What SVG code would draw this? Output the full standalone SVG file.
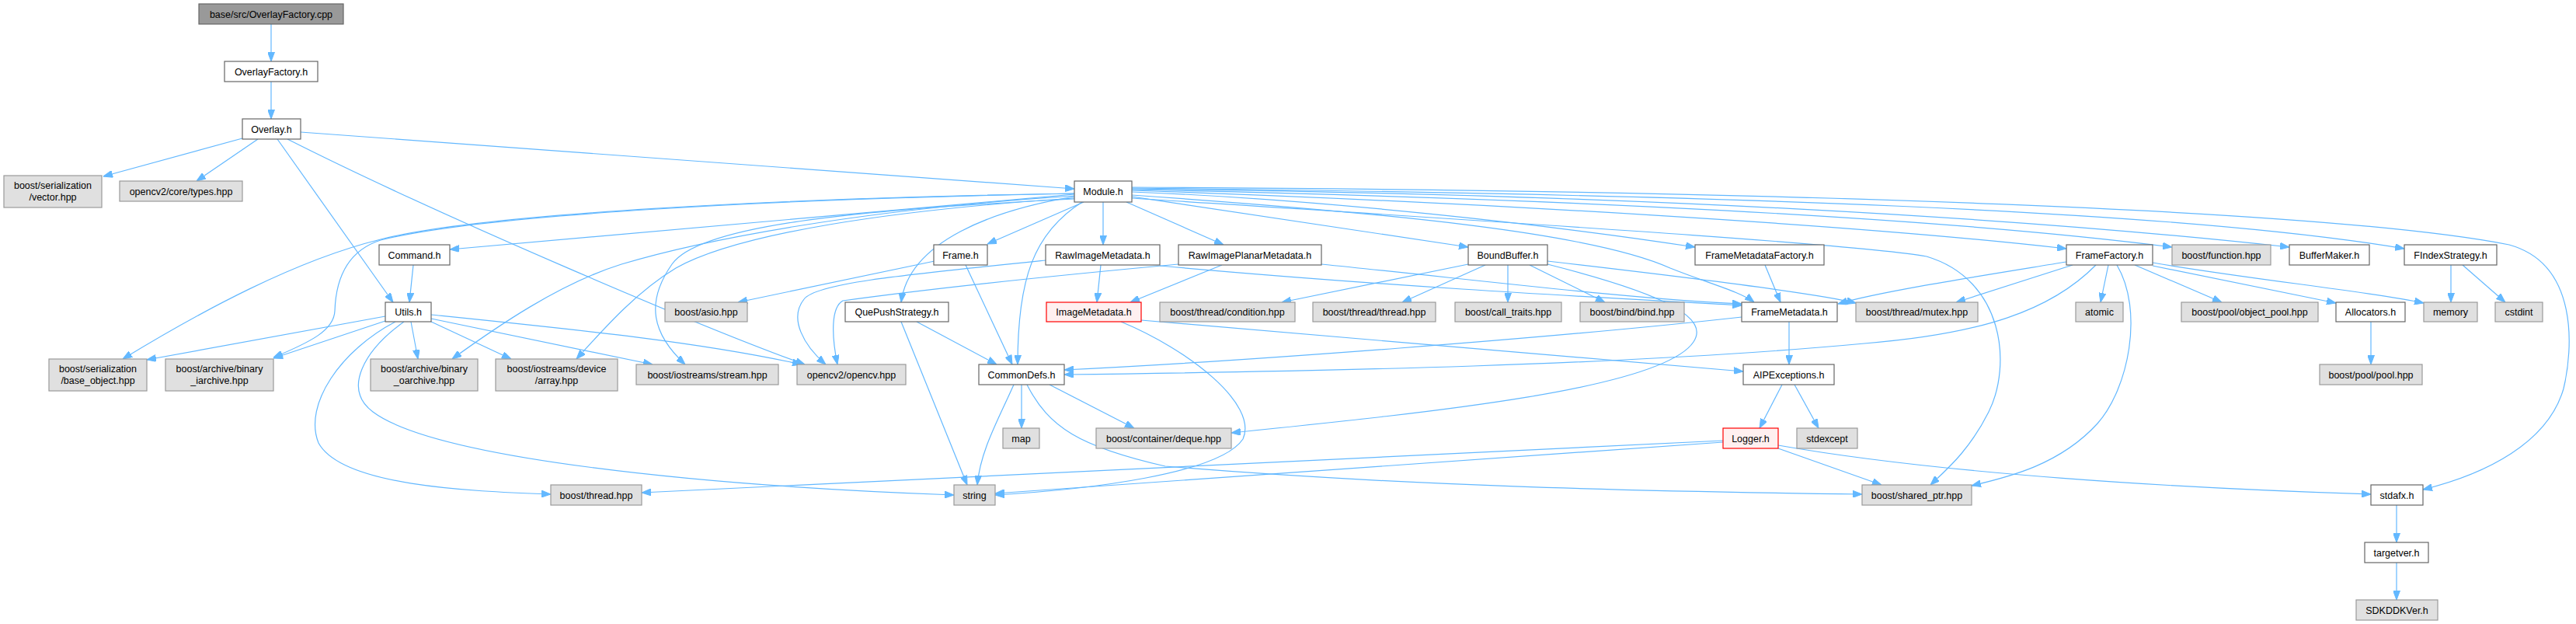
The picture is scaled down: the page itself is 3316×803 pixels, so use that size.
<svg xmlns="http://www.w3.org/2000/svg" width="3316" height="803" viewBox="0 0 3316 803">
<style>
rect{stroke-width:1.2}
.n{fill:#ffffff;stroke:#666666}
.g{fill:#e0e0e0;stroke:#999999}
.r{fill:#999999;stroke:#666666}
.w{fill:#fff0f0;stroke:#ff0000}
text{font-family:"Liberation Sans",Arial,Helvetica,sans-serif;font-size:12.5px;fill:#000;text-anchor:middle}
#edges path{fill:none;stroke:#63b8ff;stroke-width:1.2;marker-end:url(#a)}
</style>
<defs>
<marker id="a" markerWidth="12" markerHeight="9" refX="12" refY="4.5" orient="auto" markerUnits="userSpaceOnUse"><path d="M0,0 L12,4.5 L0,9 z" fill="#63b8ff" stroke="#63b8ff" stroke-width="1"/></marker>
</defs>
<rect width="3316" height="803" fill="#ffffff"/>
<g id="edges">
<path d="M349,31 L349,79"/>
<path d="M349,105 L349,153"/>
<path d="M312,178 L133,227"/>
<path d="M332,179 L253,233"/>
<path d="M357,179 L506,389"/>
<path d="M370,179 C560,275 900,420 1036,469"/>
<path d="M387,170 L1383,243"/>
<path d="M1383,250 L579,321"/>
<path d="M532,341 L527,389"/>
<path d="M1383,249 C1000,255 620,275 490,308 C380,335 260,400 158,462"/>
<path d="M1383,249 C1000,256 620,276 490,309 C440,325 432,370 431,400 C430,425 400,440 352,460"/>
<path d="M1383,252 C1100,270 900,310 800,340 C720,365 640,420 582,462"/>
<path d="M1383,255 C1150,270 950,300 870,345 C820,375 780,420 742,462"/>
<path d="M1383,256 C1100,270 900,290 865,340 C830,390 840,430 882,469"/>
<path d="M1383,253 C1280,270 1170,310 1160,389"/>
<path d="M1395,260 L1271,314"/>
<path d="M1420,260 L1420,315"/>
<path d="M1450,260 L1575,315"/>
<path d="M1393,260 C1330,300 1310,360 1310,469"/>
<path d="M1457,253 L1890,318"/>
<path d="M1457,247 C1700,256 2000,290 2182,318"/>
<path d="M1457,251 C1800,275 2050,300 2150,345 C2200,365 2240,375 2258,389"/>
<path d="M1457,245 C1900,260 2400,290 2660,320"/>
<path d="M1457,244 C2000,255 2500,280 2796,318"/>
<path d="M1457,243 C2100,250 2600,280 2947,318"/>
<path d="M1457,242 C2200,250 2800,270 3095,320"/>
<path d="M1457,241 C2300,245 3000,270 3230,315 C3320,340 3312,450 3300,500 C3280,570 3200,610 3119,630"/>
<path d="M1457,255 C2000,290 2400,315 2480,330 C2580,360 2590,470 2560,530 C2535,580 2505,605 2485,624"/>
<path d="M1203,336 L950,389"/>
<path d="M1243,341 L1303,469"/>
<path d="M1180,414 L1283,469"/>
<path d="M1160,414 L1245,624"/>
<path d="M1417,341 L1412,389"/>
<path d="M1573,341 L1455,389"/>
<path d="M1346,335 C1150,355 1050,365 1035,385 C1015,410 1035,445 1063,469"/>
<path d="M1517,340 C1300,360 1150,378 1085,387 C1070,395 1070,430 1078,469"/>
<path d="M1493,342 C1800,370 2100,385 2242,393"/>
<path d="M1701,340 C1900,360 2100,385 2242,391"/>
<path d="M1890,340 L1650,389"/>
<path d="M1912,341 L1805,389"/>
<path d="M1941,341 L1941,389"/>
<path d="M1969,341 L2066,389"/>
<path d="M1992,336 C2200,360 2350,380 2389,390"/>
<path d="M1992,340 C2150,380 2200,410 2180,440 C2140,500 1850,530 1585,557"/>
<path d="M2272,341 L2292,389"/>
<path d="M2303,414 L2303,469"/>
<path d="M2242,408 C2000,435 1600,465 1370,476"/>
<path d="M2698,341 C2640,400 2550,430 2400,442 C2100,470 1700,478 1370,482"/>
<path d="M2660,337 C2550,355 2420,375 2366,391"/>
<path d="M2668,341 L2518,389"/>
<path d="M2714,341 L2704,389"/>
<path d="M2748,341 L2860,389"/>
<path d="M2771,342 L3007,390"/>
<path d="M2771,338 C2900,360 3050,375 3120,390"/>
<path d="M2725,341 C2760,400 2740,500 2700,545 C2650,600 2580,615 2538,625"/>
<path d="M3155,341 L3155,389"/>
<path d="M3170,341 L3225,389"/>
<path d="M3052,414 L3052,469"/>
<path d="M2294,495 L2265,551"/>
<path d="M2310,495 L2341,551"/>
<path d="M2218,567 L826,634"/>
<path d="M2218,569 L1281,635"/>
<path d="M2289,577 L2422,624"/>
<path d="M2289,573 C2500,610 2800,628 3052,636"/>
<path d="M1315,495 L1315,551"/>
<path d="M1351,495 L1460,551"/>
<path d="M1305,495 C1285,540 1262,580 1258,624"/>
<path d="M1322,495 C1350,550 1390,575 1500,600 C1800,625 2100,632 2397,636"/>
<path d="M1443,414 C1530,450 1620,520 1600,565 C1570,610 1400,630 1281,637"/>
<path d="M1469,412 C1800,440 2100,465 2244,478"/>
<path d="M496,407 L189,463"/>
<path d="M496,413 L352,461"/>
<path d="M529,414 L538,462"/>
<path d="M555,414 L658,462"/>
<path d="M555,410 L840,469"/>
<path d="M555,405 C750,425 900,440 1032,469"/>
<path d="M509,414 C440,450 390,520 410,570 C440,625 600,632 709,636"/>
<path d="M520,414 C470,450 440,500 480,530 C560,590 900,625 1228,637"/>
<path d="M3085,650 L3085,698"/>
<path d="M3085,724 L3085,772"/>
</g>
<g id="n1"><rect class="r" x="256" y="5" width="186" height="26"/><text x="349" y="22.5">base/src/OverlayFactory.cpp</text></g>
<g id="n2"><rect class="n" x="289" y="79" width="120" height="26"/><text x="349" y="96.5">OverlayFactory.h</text></g>
<g id="n3"><rect class="n" x="312" y="153" width="75" height="26"/><text x="349.5" y="170.5">Overlay.h</text></g>
<g id="n4"><rect class="g" x="5" y="226" width="126" height="41"/><text x="68" y="243">boost/serialization</text><text x="68" y="258">/vector.hpp</text></g>
<g id="n5"><rect class="g" x="154" y="233" width="158" height="26"/><text x="233" y="250.5">opencv2/core/types.hpp</text></g>
<g id="n6"><rect class="n" x="1383" y="233" width="74" height="27"/><text x="1420" y="251">Module.h</text></g>
<g id="n7"><rect class="n" x="488" y="315" width="91" height="26"/><text x="533.5" y="332.5">Command.h</text></g>
<g id="n8"><rect class="n" x="1202" y="315" width="69" height="26"/><text x="1236.5" y="332.5">Frame.h</text></g>
<g id="n9"><rect class="n" x="1346" y="315" width="147" height="26"/><text x="1419.5" y="332.5">RawImageMetadata.h</text></g>
<g id="n10"><rect class="n" x="1517" y="315" width="184" height="26"/><text x="1609" y="332.5">RawImagePlanarMetadata.h</text></g>
<g id="n11"><rect class="n" x="1890" y="315" width="102" height="26"/><text x="1941" y="332.5">BoundBuffer.h</text></g>
<g id="n12"><rect class="n" x="2182" y="315" width="166" height="26"/><text x="2265" y="332.5">FrameMetadataFactory.h</text></g>
<g id="n13"><rect class="n" x="2660" y="315" width="111" height="26"/><text x="2715.5" y="332.5">FrameFactory.h</text></g>
<g id="n14"><rect class="g" x="2796" y="315" width="127" height="26"/><text x="2859.5" y="332.5">boost/function.hpp</text></g>
<g id="n15"><rect class="n" x="2947" y="315" width="103" height="26"/><text x="2998.5" y="332.5">BufferMaker.h</text></g>
<g id="n16"><rect class="n" x="3095" y="315" width="119" height="26"/><text x="3154.5" y="332.5">FIndexStrategy.h</text></g>
<g id="n17"><rect class="n" x="496" y="389" width="59" height="25"/><text x="525.5" y="406">Utils.h</text></g>
<g id="n18"><rect class="g" x="856" y="389" width="106" height="25"/><text x="909" y="406">boost/asio.hpp</text></g>
<g id="n19"><rect class="n" x="1088" y="389" width="133" height="25"/><text x="1154.5" y="406">QuePushStrategy.h</text></g>
<g id="n20"><rect class="w" x="1347" y="389" width="122" height="25"/><text x="1408" y="406">ImageMetadata.h</text></g>
<g id="n21"><rect class="g" x="1493" y="389" width="174" height="25"/><text x="1580" y="406">boost/thread/condition.hpp</text></g>
<g id="n22"><rect class="g" x="1690" y="389" width="158" height="25"/><text x="1769" y="406">boost/thread/thread.hpp</text></g>
<g id="n23"><rect class="g" x="1873" y="389" width="137" height="25"/><text x="1941.5" y="406">boost/call_traits.hpp</text></g>
<g id="n24"><rect class="g" x="2034" y="389" width="134" height="25"/><text x="2101" y="406">boost/bind/bind.hpp</text></g>
<g id="n25"><rect class="n" x="2242" y="389" width="123" height="25"/><text x="2303.5" y="406">FrameMetadata.h</text></g>
<g id="n26"><rect class="g" x="2389" y="389" width="157" height="25"/><text x="2467.5" y="406">boost/thread/mutex.hpp</text></g>
<g id="n27"><rect class="g" x="2672" y="389" width="61" height="25"/><text x="2702.5" y="406">atomic</text></g>
<g id="n28"><rect class="g" x="2808" y="389" width="176" height="25"/><text x="2896" y="406">boost/pool/object_pool.hpp</text></g>
<g id="n29"><rect class="n" x="3007" y="389" width="89" height="25"/><text x="3051.5" y="406">Allocators.h</text></g>
<g id="n30"><rect class="g" x="3120" y="389" width="69" height="25"/><text x="3154.5" y="406">memory</text></g>
<g id="n31"><rect class="g" x="3212" y="389" width="61" height="25"/><text x="3242.5" y="406">cstdint</text></g>
<g id="n32"><rect class="g" x="63" y="462" width="126" height="41"/><text x="126" y="479">boost/serialization</text><text x="126" y="494">/base_object.hpp</text></g>
<g id="n33"><rect class="g" x="213" y="462" width="139" height="41"/><text x="282.5" y="479">boost/archive/binary</text><text x="282.5" y="494">_iarchive.hpp</text></g>
<g id="n34"><rect class="g" x="477" y="462" width="138" height="41"/><text x="546" y="479">boost/archive/binary</text><text x="546" y="494">_oarchive.hpp</text></g>
<g id="n35"><rect class="g" x="638" y="462" width="157" height="41"/><text x="716.5" y="479">boost/iostreams/device</text><text x="716.5" y="494">/array.hpp</text></g>
<g id="n36"><rect class="g" x="819" y="469" width="183" height="26"/><text x="910.5" y="486.5">boost/iostreams/stream.hpp</text></g>
<g id="n37"><rect class="g" x="1026" y="469" width="140" height="26"/><text x="1096" y="486.5">opencv2/opencv.hpp</text></g>
<g id="n38"><rect class="n" x="1260" y="469" width="110" height="26"/><text x="1315" y="486.5">CommonDefs.h</text></g>
<g id="n39"><rect class="n" x="2244" y="469" width="117" height="26"/><text x="2302.5" y="486.5">AIPExceptions.h</text></g>
<g id="n40"><rect class="g" x="2986" y="469" width="132" height="26"/><text x="3052" y="486.5">boost/pool/pool.hpp</text></g>
<g id="n41"><rect class="g" x="1291" y="551" width="47" height="26"/><text x="1314.5" y="568.5">map</text></g>
<g id="n42"><rect class="g" x="1411" y="551" width="174" height="26"/><text x="1498" y="568.5">boost/container/deque.hpp</text></g>
<g id="n43"><rect class="w" x="2218" y="551" width="71" height="26"/><text x="2253.5" y="568.5">Logger.h</text></g>
<g id="n44"><rect class="g" x="2313" y="551" width="78" height="26"/><text x="2352" y="568.5">stdexcept</text></g>
<g id="n45"><rect class="g" x="709" y="624" width="117" height="26"/><text x="767.5" y="641.5">boost/thread.hpp</text></g>
<g id="n46"><rect class="g" x="1228" y="624" width="53" height="26"/><text x="1254.5" y="641.5">string</text></g>
<g id="n47"><rect class="g" x="2397" y="624" width="141" height="26"/><text x="2467.5" y="641.5">boost/shared_ptr.hpp</text></g>
<g id="n48"><rect class="n" x="3052" y="624" width="67" height="26"/><text x="3085.5" y="641.5">stdafx.h</text></g>
<g id="n49"><rect class="n" x="3044" y="698" width="82" height="26"/><text x="3085" y="715.5">targetver.h</text></g>
<g id="n50"><rect class="g" x="3033" y="772" width="105" height="26"/><text x="3085.5" y="789.5">SDKDDKVer.h</text></g>
</svg>
